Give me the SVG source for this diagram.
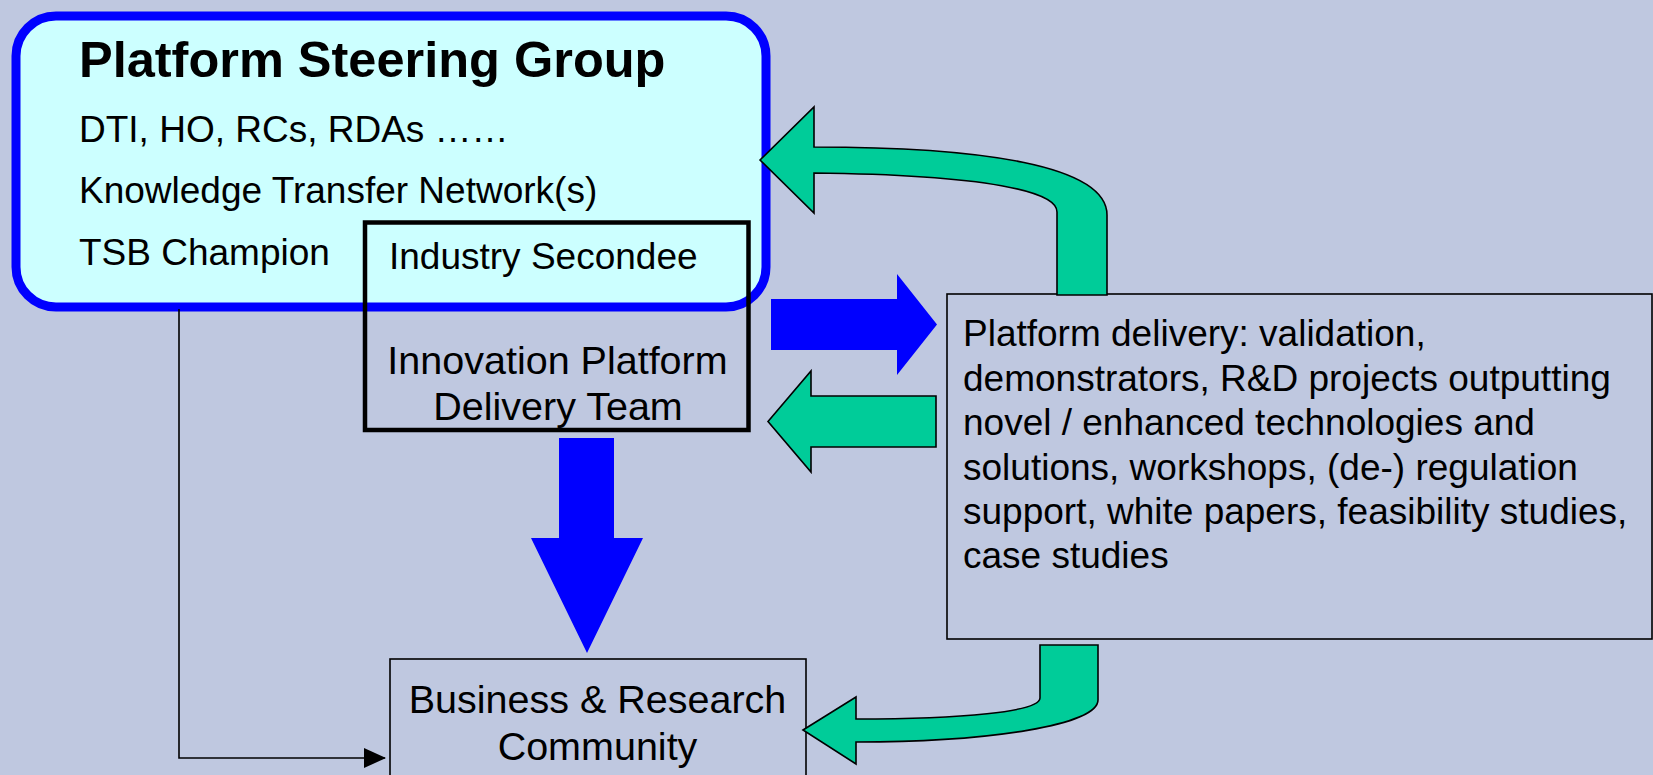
<svg xmlns="http://www.w3.org/2000/svg" width="1653" height="775" viewBox="0 0 1653 775">
<defs>
<style>
.t{font-family:"Liberation Sans",Arial,Helvetica,sans-serif;fill:#000}
.l{font-size:37px}
.c{font-size:39.5px;text-anchor:middle}
.r{font-size:37px}
.box{fill:none;stroke:#000;stroke-width:1.6}
.green{fill:#00CC99;stroke:#000;stroke-width:1.6;stroke-linejoin:miter}
.blue{fill:#0000FF;stroke:none}
</style>
<marker id="ah" viewBox="0 0 22 20" refX="21" refY="10" markerWidth="22" markerHeight="20" markerUnits="userSpaceOnUse" orient="auto">
<path d="M0,0 L22,10 L0,20 Z" fill="#000"/>
</marker>
</defs>
<rect x="0" y="0" width="1653" height="775" fill="#BFC8E0"/>

<g id="steering-group">
<rect x="16" y="16" width="750" height="291" rx="40" ry="40" fill="#CCFFFF" stroke="#0000FF" stroke-width="9"/>
<text class="t" x="79" y="77" font-size="50.5" font-weight="bold">Platform Steering Group</text>
<text class="t l" x="79" y="142">DTI, HO, RCs, RDAs ……</text>
<text class="t l" x="79" y="203">Knowledge Transfer Network(s)</text>
<text class="t l" x="79" y="265">TSB Champion</text>
</g>

<g id="delivery-team">
<rect x="365" y="222.5" width="383.5" height="207.5" fill="none" stroke="#000" stroke-width="4.5"/>
<text class="t l" x="389" y="269">Industry Secondee</text>
<text class="t c" x="557.5" y="374">Innovation Platform</text>
<text class="t c" x="558" y="420">Delivery Team</text>
</g>

<g id="platform-delivery">
<rect class="box" x="947" y="294" width="705" height="345"/>
<text class="t r" x="963" y="346">Platform delivery: validation,</text>
<text class="t r" x="963" y="391">demonstrators, R&amp;D projects outputting</text>
<text class="t r" x="963" y="435">novel / enhanced technologies and</text>
<text class="t r" x="963" y="480">solutions, workshops, (de-) regulation</text>
<text class="t r" x="963" y="524">support, white papers, feasibility studies,</text>
<text class="t r" x="963" y="568">case studies</text>
</g>

<g id="business-community">
<rect class="box" x="390" y="659" width="416" height="140"/>
<text class="t c" x="597.5" y="713">Business &amp; Research</text>
<text class="t c" x="597.5" y="760">Community</text>
</g>

<g id="connectors">
<polyline points="179,309 179,758 385,758" fill="none" stroke="#000" stroke-width="1.6" marker-end="url(#ah)"/>
<polygon class="blue" points="771,299 897,299 897,274 937,324.5 897,375 897,350 771,350"/>
<polygon class="blue" points="559,438 614,438 614,538 643,538 587,653 531,538 559,538"/>
<polygon class="green" points="768,421.5 811,371 811,396 936,396 936,447 811,447 811,472"/>
<path class="green" d="M760,160 L814,107 L814,147 C980,147 1107,165 1107,215 L1107,295 L1057,295 L1057,212 C1057,192 990,175 814,173 L814,213 Z"/>
<path class="green" d="M803,730 L856,697 L856,719 C960,719 1040,712 1040,698 L1040,645 L1098,645 L1098,700 C1098,725 990,742 856,742 L856,764 Z"/>
</g>
</svg>
